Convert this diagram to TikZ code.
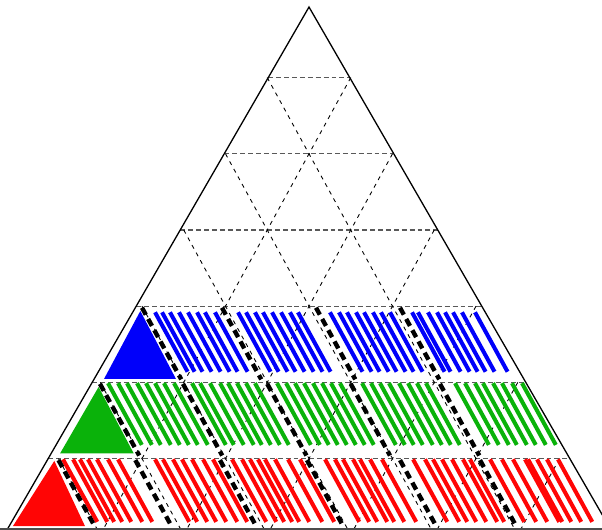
\documentclass[tikz,border=0pt]{standalone}
\usetikzlibrary{calc}
\definecolor{fillblue}{RGB}{0,0,250}
\definecolor{fillgreen}{RGB}{10,178,10}
\definecolor{fillred}{RGB}{255,5,5}
\newcommand{\solidcell}[4]{% colour, apex, left, right
  \fill[#1] #2 -- #3 -- #4 -- cycle;
}
\newcommand{\hatchrow}[4]{% colour, top, length, line tops
  \foreach \x in {#4}
    \draw[hatch,#1] (\x,#2)--++({#3/2},-#3);
}
\newcommand{\cellrules}[3]{% top, length, rule tops
  \foreach \x in {#3}
    \draw[cellrule] (\x,#1)--++({#2/2},-#2);
}

\begin{document}
\begin{tikzpicture}[x=1.67cm,y=1.524cm,
  side/.style={line width=0.74pt},
  rowline/.style={black!65,line width=0.7pt,dash pattern=on 2.8pt off 1.7pt},
  latline/.style={line width=0.5pt,dash pattern=on 2.3pt off 2.6pt},
  hatch/.style={line width=2.3pt},
  cellrule/.style={line width=2.5pt,dash pattern=on 4.5pt off 2.8pt}]
  \useasboundingbox (-3.7006,0.063) rectangle (3.509,7.0184);
  % triangular grid
  \foreach \r in {1,...,6}
    \draw[rowline] ({-(6.926-\r)*0.5267},\r)--({(6.926-\r)*0.5267},\r);
  \foreach \k in {1,...,6}{
    \draw[latline] ({-\k/2},7-\k)--({3.5-\k},0);
    \draw[latline] ({\k/2},7-\k)--({\k-3.5},0);
  }
  \draw[side] (-3.611,0.075)--(0,6.926)--(3.611,0.075)--cycle;
  \draw[line width=1.2pt,black!70] (-3.7,0.075)--(3.6,0.075);
  % blue row
  \solidcell{fillblue}{(-2.02,2.937)}{(-2.455,2.045)}{(-1.593,2.045)}
  \hatchrow{fillblue}{2.92}{0.78}{-1.844,-1.760,-1.665,-1.557,-1.449,-1.341,-1.246,-1.126,
    -0.850,-0.754,-0.647,-0.551,-0.443,-0.335,-0.228,-0.132,
    0.251,0.359,0.455,0.563,0.659,0.766,0.862,0.970,
    1.234,1.305,1.425,1.533,1.629,1.725,1.832,1.988}
  \cellrules{2.98}{0.94}{-2.0,-1.042,0.084,1.09}
  % green row
  \solidcell{fillgreen}{(-2.52,1.94)}{(-2.98,1.07)}{(-2.1,1.07)}
  \hatchrow{fillgreen}{1.99}{0.81}{-2.407,-2.287,-2.180,-2.060,-1.952,-1.844,-1.737,-1.617,
    -1.401,-1.305,-1.186,-1.066,-0.970,-0.862,-0.754,-0.647,
    -0.383,-0.275,-0.168,-0.060,0.048,0.156,0.263,0.371,
    0.635,0.743,0.850,0.958,1.078,1.186,1.293,1.401,
    1.749,1.868,1.988,2.084,2.204,2.311,2.431,2.551}
  \cellrules{1.98}{0.94}{-2.503,-1.509,-0.5,0.5,1.569}
  % red row
  \solidcell{fillred}{(-3.05,0.97)}{(-3.545,0.115)}{(-2.683,0.115)}
  \hatchrow{fillred}{0.99}{0.82}{-2.946,-2.826,-2.743,-2.647,-2.539,-2.407,-2.287,
    -1.844,-1.749,-1.629,-1.521,-1.401,-1.269,-1.150,
    -0.922,-0.802,-0.707,-0.611,-0.527,-0.407,-0.251,-0.108,
    0.192,0.311,0.407,0.527,0.611,0.731,0.874,
    1.246,1.389,1.485,1.593,1.713,1.844,1.928,
    2.168,2.311,2.443,2.587,2.623,2.731,2.850,2.982}
  \cellrules{0.98}{0.84}{-3.0,-2.08,-1.066,-0.024,1.09,2.048}
\end{tikzpicture}
\end{document}
